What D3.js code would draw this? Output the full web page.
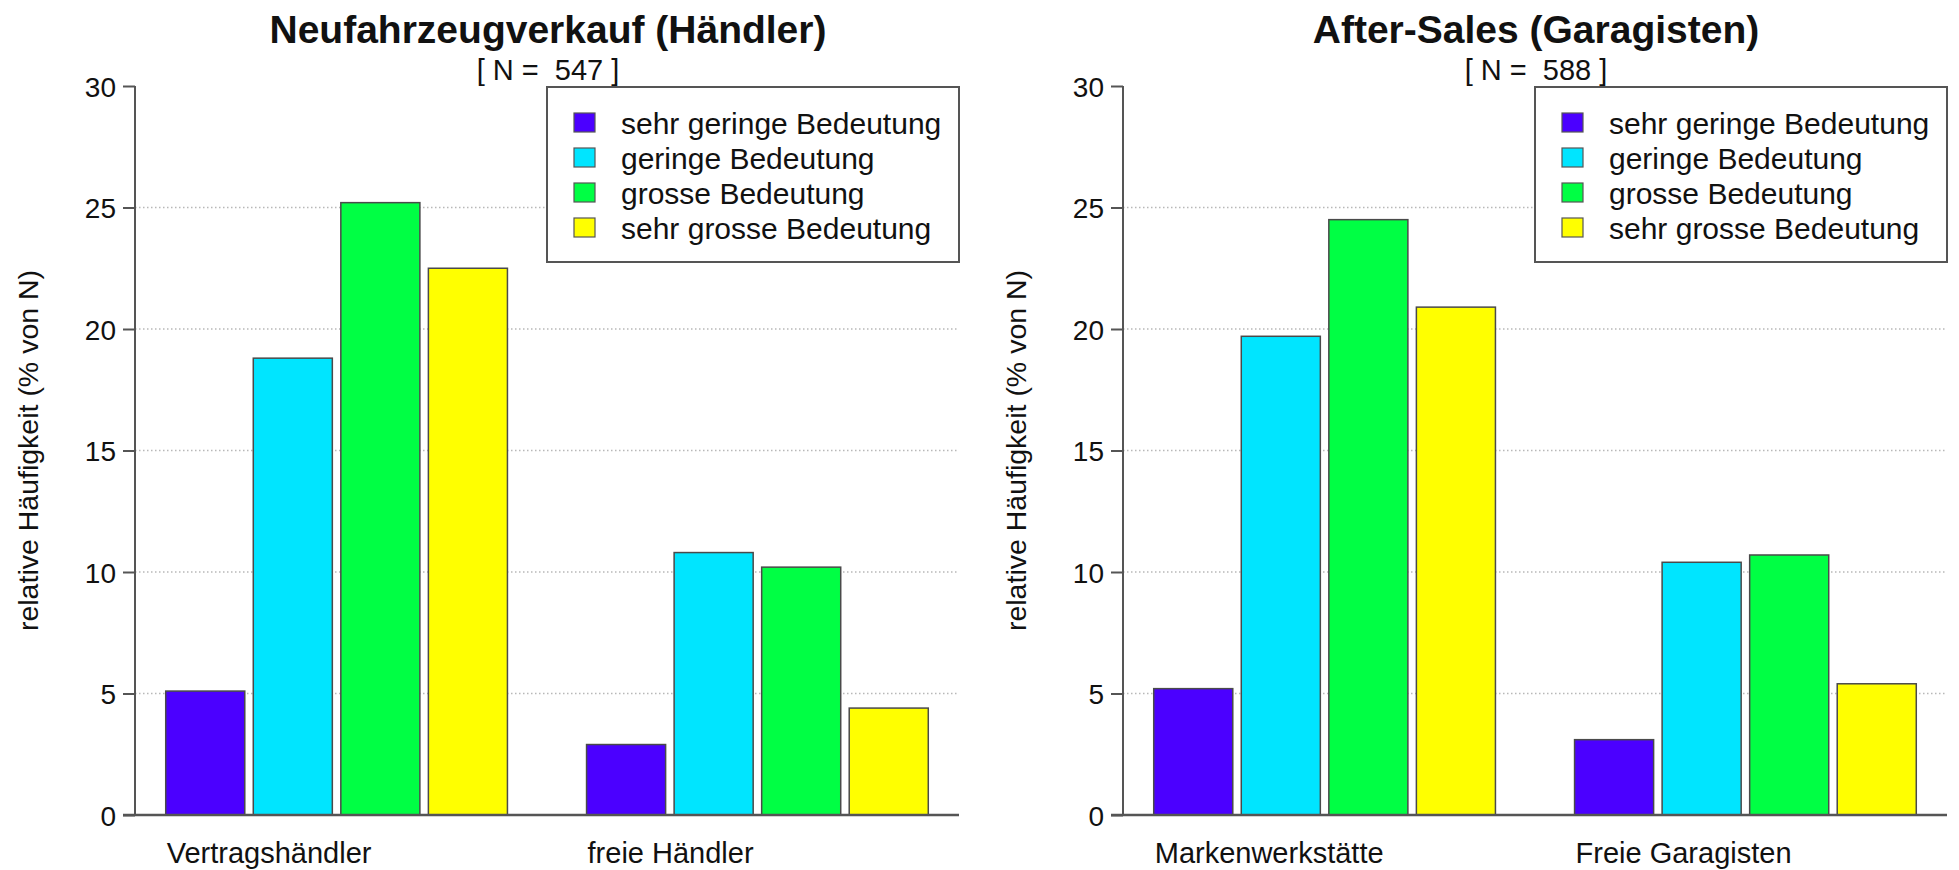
<!DOCTYPE html>
<html><head><meta charset="utf-8">
<script src="https://cdn.jsdelivr.net/npm/d3@7"></script>
<style>
html,body{margin:0;padding:0;background:#fff;}
text{font-family:"Liberation Sans",Arial,Helvetica,sans-serif;white-space:pre;}
</style></head>
<body>
<svg id="chart" width="1959" height="870"></svg>
<script>
// ---- data ----
const seriesNames = ["sehr geringe Bedeutung","geringe Bedeutung","grosse Bedeutung","sehr grosse Bedeutung"];
const seriesColors = ["#4b00ff","#00e5ff","#00ff44","#ffff00"];
const yTicks = [0,5,10,15,20,25,30];
const yLabel = "relative Häufigkeit (% von N)";

const leftTitle = "Neufahrzeugverkauf (Händler)";
const leftN = "[ N =  547 ]";
const leftCategories = ["Vertragshändler","freie Händler"];
const leftValues = [[5.1,18.8,25.2,22.5],[2.9,10.8,10.2,4.4]];

const rightTitle = "After-Sales (Garagisten)";
const rightN = "[ N =  588 ]";
const rightCategories = ["Markenwerkstätte","Freie Garagisten"];
const rightValues = [[5.2,19.7,24.5,20.9],[3.1,10.4,10.7,5.4]];

// ---- layout ----
const svg = d3.select("#chart");
const plotW = 824, yTop = 86, yBot = 815;

function drawPanel(x0, title, nText, cats, vals){
  const g = svg.append("g").attr("transform",`translate(${x0},0)`);
  const y = d3.scaleLinear().domain([0,30]).range([yBot,yTop]);
  const x0s = d3.scaleBand().domain(cats).range([0,plotW]).paddingInner(0.188).paddingOuter(0.073);
  const x1 = d3.scaleBand().domain(seriesNames).range([0,x0s.bandwidth()]).paddingInner(0.097).paddingOuter(0);

  // grid
  g.append("g").selectAll("line").data(yTicks.filter(t=>t>0&&t<30)).join("line")
    .attr("x1",0).attr("x2",plotW).attr("y1",d=>y(d)).attr("y2",d=>y(d))
    .attr("stroke","#b8b8b8").attr("stroke-width",1.5).attr("stroke-dasharray","1.5,2.5");

  // bars
  const grp = g.append("g").selectAll("g").data(cats).join("g")
    .attr("transform",d=>`translate(${x0s(d)},0)`);
  grp.selectAll("rect").data((d,i)=>vals[i].map((v,j)=>({v,s:seriesNames[j],c:seriesColors[j]}))).join("rect")
    .attr("x",d=>x1(d.s)).attr("width",x1.bandwidth())
    .attr("y",d=>y(d.v)).attr("height",d=>y(0)-y(d.v))
    .attr("fill",d=>d.c).attr("stroke","#4a4a4a").attr("stroke-width",1.5);

  // y axis
  const ax = d3.axisLeft(y).tickValues(yTicks).tickSize(12).tickPadding(7).tickFormat(d3.format("d"));
  const ag = g.append("g").call(ax);
  ag.select(".domain").attr("stroke","#555").attr("stroke-width",2).attr("d",`M0,${yTop}V${yBot}`);
  ag.selectAll(".tick line").attr("stroke","#555").attr("stroke-width",2);
  ag.selectAll(".tick text").attr("font-size",28).attr("fill","#111").attr("font-family","Liberation Sans, Arial, sans-serif").attr("dy","0.36em");

  // x axis line
  g.append("line").attr("x1",-12).attr("x2",plotW).attr("y1",yBot).attr("y2",yBot)
    .attr("stroke","#555").attr("stroke-width",2.5);

  // x labels
  g.append("g").selectAll("text").data(cats).join("text")
    .attr("x",d=>x0s(d)+1).attr("y",863).attr("font-size",29).attr("fill","#111").text(d=>d);

  // y label
  g.append("text").attr("transform",`translate(-97,${(yTop+yBot)/2}) rotate(-90)`)
    .attr("text-anchor","middle").attr("font-size",28.5).attr("fill","#111").text(yLabel);

  // titles
  g.append("text").attr("x",plotW/2+1).attr("y",43).attr("text-anchor","middle")
    .attr("font-size",39).attr("font-weight","bold").attr("fill","#111").text(title);
  g.append("text").attr("x",plotW/2+1).attr("y",80).attr("text-anchor","middle")
    .attr("font-size",29).attr("fill","#111").text(nText);

  // legend
  const lx = 412, ly = yTop+1, lw = plotW-lx, lh = 175;
  g.append("rect").attr("x",lx).attr("y",ly).attr("width",lw).attr("height",lh)
    .attr("fill","#fff").attr("stroke","#555").attr("stroke-width",2);
  const li = g.append("g").selectAll("g").data(seriesNames).join("g")
    .attr("transform",(d,i)=>`translate(${lx+27},${ly+36+i*35})`);
  li.append("rect").attr("x",0).attr("y",-10).attr("width",21).attr("height",19)
    .attr("fill",(d,i)=>seriesColors[i]).attr("stroke","#555").attr("stroke-width",1.2);
  li.append("text").attr("x",47).attr("y",0).attr("dy","0.36em").attr("font-size",30).attr("fill","#111").text(d=>d);
}

drawPanel(135, leftTitle, leftN, leftCategories, leftValues);
drawPanel(1123, rightTitle, rightN, rightCategories, rightValues);
</script>
</body></html>
